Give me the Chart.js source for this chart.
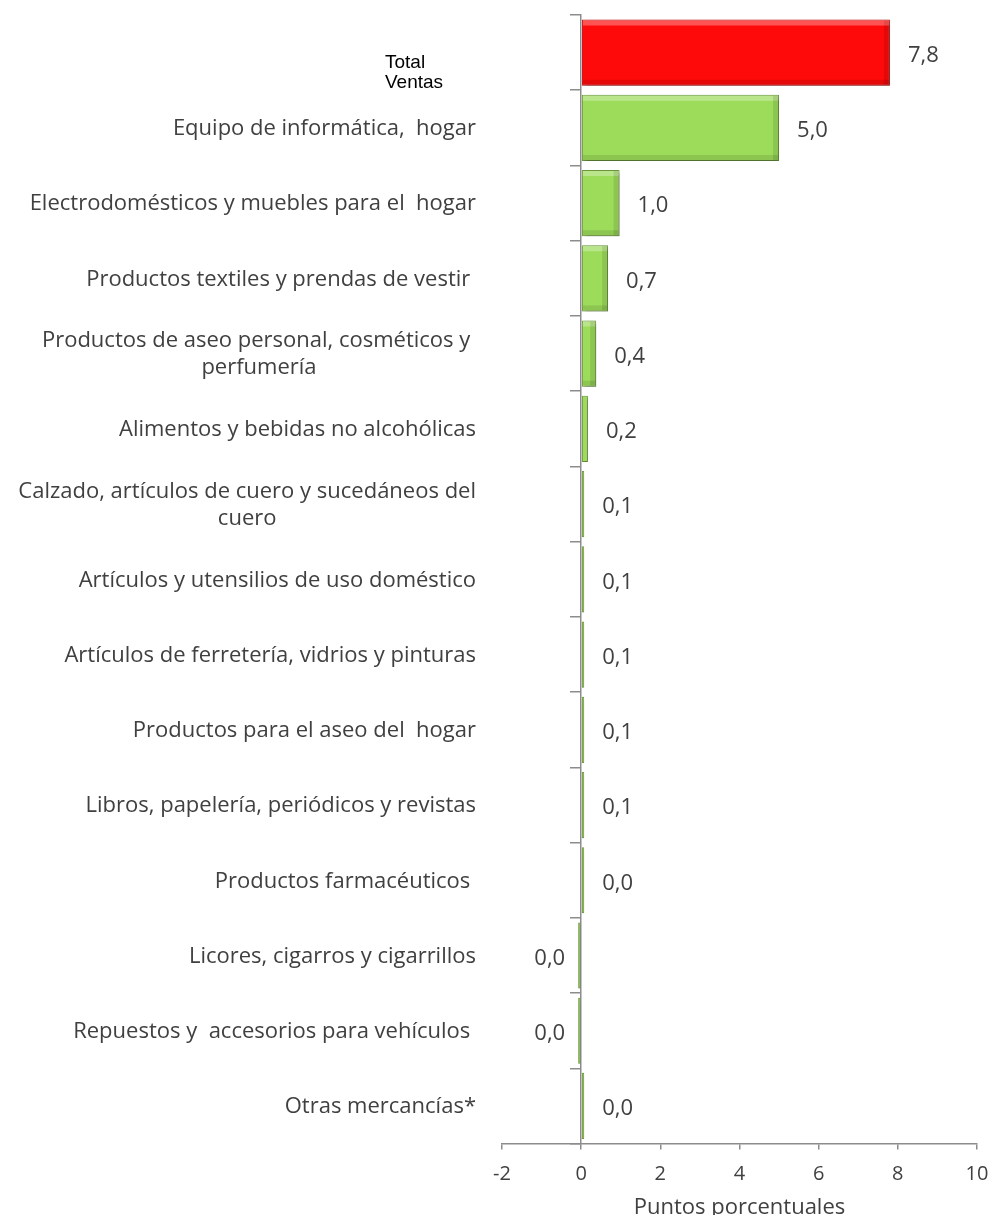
<!DOCTYPE html>
<html>
<head>
<meta charset="utf-8">
<title>Puntos porcentuales</title>
<script src="https://cdn.jsdelivr.net/npm/chart.js@4.4.1/dist/chart.umd.min.js"></script>
<style>
  html, body { margin: 0; padding: 0; background: #fff; }
  #chart { display: block; }
</style>
</head>
<body>
<canvas id="chart" width="993" height="1215"></canvas>
<script>
// --- data ---
const categories = [
    'Total\nVentas',
    'Equipo de informática,  hogar',
    'Electrodomésticos y muebles para el  hogar',
    'Productos textiles y prendas de vestir ',
    'Productos de aseo personal, cosméticos y \nperfumería',
    'Alimentos y bebidas no alcohólicas',
    'Calzado, artículos de cuero y sucedáneos del\ncuero',
    'Artículos y utensilios de uso doméstico',
    'Artículos de ferretería, vidrios y pinturas',
    'Productos para el aseo del  hogar',
    'Libros, papelería, periódicos y revistas',
    'Productos farmacéuticos ',
    'Licores, cigarros y cigarrillos',
    'Repuestos y  accesorios para vehículos ',
    'Otras mercancías*'
];
const contributions = [7.8, 5.0, 0.97, 0.68, 0.38, 0.17, 0.07, 0.07, 0.07, 0.06, 0.06, 0.04, -0.04, -0.04, 0.04];
const xTicks = [-2, 0, 2, 4, 6, 8, 10];
const xTitle = 'Puntos porcentuales';

const textColor = '#404040';
const axisColor = '#8c8c8c';
const fontFamily = '"Open Sans", "Noto Sans", sans-serif';
const labelFont = '22px ' + fontFamily;

function fmt(v) {
    let s = v.toFixed(1);
    if (s === '-0.0') s = '0.0';
    return s.replace('.', ',');
}

// soft shadow under the bars
const barShadow = {
    id: 'barShadow',
    beforeDatasetsDraw(chart) {
        const ctx = chart.ctx;
        ctx.save();
        ctx.shadowColor = 'rgba(0,0,0,0.35)';
        ctx.shadowBlur = 4;
        ctx.shadowOffsetX = 2;
        ctx.shadowOffsetY = 2;
    },
    afterDatasetsDraw(chart) {
        const ctx = chart.ctx;
        ctx.restore();
        // bevel highlights
        const meta = chart.getDatasetMeta(0);
        meta.data.forEach(bar => {
            const { x, y, base, height } = bar.getProps(['x', 'y', 'base', 'height'], true);
            const left = Math.min(x, base), w = Math.abs(x - base);
            const top = y - height / 2;
            if (w < 8) return;
            ctx.save();
            ctx.fillStyle = 'rgba(255,255,255,0.3)';
            ctx.fillRect(left + 1, top + 1, w - 2, 5);
            ctx.fillStyle = 'rgba(0,0,0,0.10)';
            ctx.fillRect(left + 1, top + height - 6, w - 2, 5);
            ctx.fillRect(left + w - 6, top + 1, 5, height - 2);
            ctx.restore();
        });
    }
};

// value labels next to each bar
const valueLabels = {
    id: 'valueLabels',
    afterDatasetsDraw(chart) {
        const ctx = chart.ctx;
        const meta = chart.getDatasetMeta(0);
        ctx.save();
        ctx.font = labelFont;
        ctx.fillStyle = textColor;
        ctx.textBaseline = 'middle';
        meta.data.forEach((bar, i) => {
            const v = contributions[i];
            if (v >= 0) {
                ctx.textAlign = 'left';
                ctx.fillText(fmt(v), bar.x + 18, bar.y + 3);
            } else {
                ctx.textAlign = 'right';
                ctx.fillText(fmt(v), bar.x - 13, bar.y + 3);
            }
        });
        ctx.restore();
    }
};

// category labels to the left of the axis
const categoryLabels = {
    id: 'categoryLabels',
    afterDraw(chart) {
        const ctx = chart.ctx;
        const yScale = chart.scales.y;
        ctx.save();
        ctx.textBaseline = 'middle';
        categories.forEach((cat, i) => {
            const yc = yScale.getPixelForTick(i);
            const lines = cat.split('\n');
            if (i === 0) {
                ctx.font = '19px "Liberation Sans", Arial, sans-serif';
                ctx.fillStyle = '#000';
                ctx.textAlign = 'left';
                lines.forEach((ln, k) => ctx.fillText(ln, 385, yc + 10 + k * 20));
                return;
            }
            ctx.font = labelFont;
            ctx.fillStyle = textColor;
            const right = 476;
            const lh = 27;
            const y0 = yc - (lines.length - 1) * lh / 2 + 1;
            if (lines.length === 1) {
                ctx.textAlign = 'right';
                ctx.fillText(lines[0], right, y0);
            } else {
                const maxW = Math.max(...lines.map(l => ctx.measureText(l).width));
                ctx.textAlign = 'center';
                lines.forEach((ln, k) => ctx.fillText(ln, right - maxW / 2, y0 + k * lh));
            }
        });
        ctx.restore();
    }
};

const ctx = document.getElementById('chart').getContext('2d');
new Chart(ctx, {
    type: 'bar',
    data: {
        labels: categories,
        datasets: [{
            data: contributions,
            backgroundColor: contributions.map((v, i) => i === 0 ? '#ff0a0a' : '#9cdc5a'),
            borderColor: contributions.map((v, i) => i === 0 ? '#c41010' : '#6f9c3e'),
            borderWidth: 1,
            borderSkipped: false,
            barPercentage: 0.88,
            categoryPercentage: 1.0,
            minBarLength: 3
        }]
    },
    options: {
        indexAxis: 'y',
        responsive: false,
        animation: false,
        layout: { padding: { left: 502, right: 16, top: 15, bottom: -6 } },
        plugins: {
            legend: { display: false },
            tooltip: { enabled: false }
        },
        scales: {
            x: {
                type: 'linear',
                min: xTicks[0],
                max: xTicks[xTicks.length - 1],
                afterBuildTicks: scale => { scale.ticks = xTicks.map(v => ({ value: v })); },
                afterFit: scale => { scale.paddingLeft = 0; scale.paddingRight = 0; },
                grid: { drawOnChartArea: false, tickLength: 6, color: axisColor, lineWidth: 1.5 },
                border: { color: axisColor, width: 1.5 },
                ticks: {
                    color: textColor,
                    font: { family: fontFamily, size: 20 },
                    padding: 13
                },
                title: {
                    display: true,
                    text: xTitle,
                    color: textColor,
                    font: { family: fontFamily, size: 22 },
                    padding: { top: -5, bottom: 0 }
                }
            },
            y: {
                type: 'category',
                position: { x: 0 },
                grid: { offset: true, drawOnChartArea: false, tickLength: 10, color: axisColor, lineWidth: 1.5 },
                border: { color: axisColor, width: 1.5 },
                ticks: { display: false }
            }
        }
    },
    plugins: [barShadow, valueLabels, categoryLabels]
});
</script>
</body>
</html>
